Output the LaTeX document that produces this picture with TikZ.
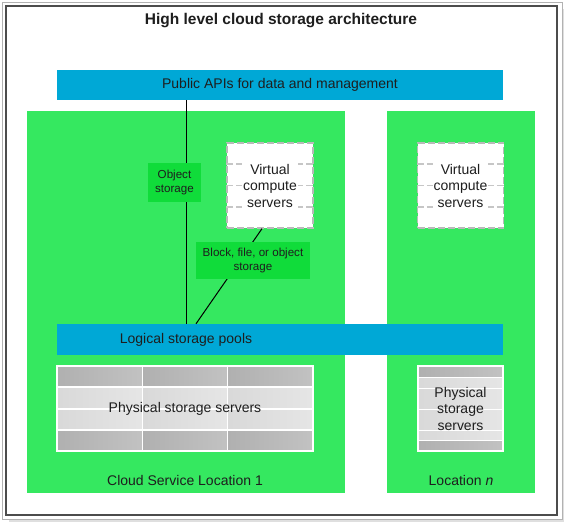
\documentclass[tikz,border=0pt]{standalone}
\usepackage{fontspec}
\setmainfont{Liberation Sans}
\usetikzlibrary{positioning,calc}
\definecolor{locgreen}{RGB}{53,232,96}
\definecolor{tagreen}{RGB}{16,220,58}
\definecolor{barblue}{RGB}{0,168,214}
\definecolor{inkgray}{RGB}{30,30,30}
\tikzset{
  locbox/.style={fill=locgreen, draw=none, inner sep=0pt},
  barbox/.style={fill=barblue, draw=none, inner sep=0pt, text=inkgray},
  tagbox/.style={fill=tagreen, draw=none, inner sep=0pt, align=center, text=inkgray,
    font=\fontsize{11.6}{13.5}\selectfont},
  vcsbox/.style={fill=white, draw=gray!55, line width=1.3pt, dash pattern=on 7pt off 3pt,
    minimum width=86, minimum height=85, inner sep=0pt},
  vcstext/.style={fill=white, inner sep=1pt, align=center, text=inkgray,
    font=\fontsize{14}{16.5}\selectfont},
  dashline/.style={draw=gray!45, line width=1.3pt, dash pattern=on 7pt off 3pt},
  darkrow/.style={left color=gray!62, right color=gray!48},
  lightrow/.style={left color=gray!30, right color=gray!20},
}
\begin{document}
\begin{tikzpicture}[x=1pt, y=-1pt, font=\fontsize{14}{16.5}\selectfont]
  \useasboundingbox (0,0) rectangle (566,525);
  % Frame
  \fill[gray!25] (9,9) rectangle (564,522);
  \fill[white] (2.5,2.5) rectangle (562,519);
  \draw[gray!60, line width=1pt] (2.5,2.5) rectangle (562,519);
  \draw[black!70, line width=1.3pt] (6,6) rectangle (557,515);
  \node[font=\bfseries\fontsize{15.5}{18}\selectfont, text=inkgray] (title) at (281,20.5)
    {High level cloud storage architecture};

  % Locations
  \node[locbox, minimum width=318, minimum height=382] (loc1) at (186,302) {};
  \node[locbox, minimum width=148, minimum height=382] (locn) at (461,302) {};
  \node[text=inkgray] (loc1name) at (185,480) {Cloud Service Location 1};
  \node[text=inkgray] (locnname) at (461,480) {Location \textit{n}};

  % Bars
  \node[barbox, minimum width=446, minimum height=30] (apis) at (280,85)
    {Public APIs for data and management};
  \node[barbox, minimum width=446, minimum height=31] (pool) at (280,339.5) {};
  \node[text=inkgray] (pooltext) at (pool.center -| loc1.center) {Logical storage pools};

  % Virtual compute servers
  \foreach \v/\x in {vcs1/270, vcsn/460.5} {
    \node[vcsbox] (\v) at (\x,185.5) {};
    \foreach \f in {0.25,0.5,0.75}
      \draw[dashline] ($(\v.north west)!\f!(\v.south west)$) -- ($(\v.north east)!\f!(\v.south east)$);
    \node[vcstext] (\v text) at (\v.center) {Virtual\\compute\\servers};
  }

  % Physical storage servers
  \node[minimum width=256, minimum height=85, inner sep=0pt] (pss1) at (185,408.5) {};
  \foreach \c in {0,1,2} {
    \foreach \ya/\yb/\s in {366/387/darkrow, 387/409/lightrow, 409/430/lightrow, 430/451/darkrow}
      \shade[\s, draw=white, line width=1.2pt] ({57+\c*85.33},\ya) rectangle ({57+(\c+1)*85.33},\yb);
  }
  \draw[white, line width=1.5pt] (pss1.north west) rectangle (pss1.south east);
  \node[text=inkgray] (pss1text) at (pss1.center) {Physical storage servers};

  \node[minimum width=85, minimum height=85, inner sep=0pt] (pssn) at (460.5,408.5) {};
  \foreach \ya/\yb/\s in {366/377/darkrow, 377/388/lightrow, 388/409/lightrow,
                          409/430/lightrow, 430/440/lightrow, 440/451/darkrow}
    \shade[\s, draw=white, line width=1pt] (418,\ya) rectangle (503,\yb);
  \draw[white, line width=1.5pt] (pssn.north west) rectangle (pssn.south east);
  \node[text=inkgray, align=center] (pssntext) at (pssn.center) {Physical\\storage\\servers};

  % Connectors
  \coordinate (objtap) at (186,0);
  \coordinate (blocktop) at (262,0);
  \coordinate (blockbot) at (196,0);
  \draw[black, line width=1pt] (apis.south -| objtap) -- (pool.north -| objtap);
  \draw[black, line width=1pt] (vcs1.south -| blocktop) -- (pool.north -| blockbot);

  % Labels
  \node[tagbox, minimum width=53, minimum height=39] (objlabel) at (174.5,182.5) {Object\\storage};
  \node[tagbox, minimum width=114, minimum height=37] (blocklabel) at (253,260.5)
    {Block, file, or object\\storage};
\end{tikzpicture}
\end{document}
